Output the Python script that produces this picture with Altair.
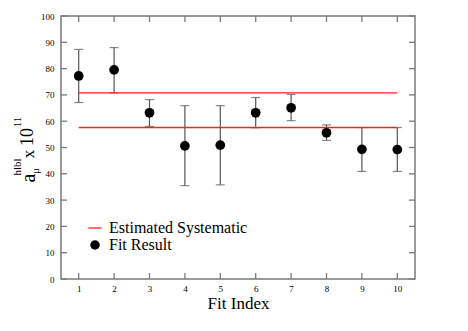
import altair as alt
import pandas as pd

fit_index = [1, 2, 3, 4, 5, 6, 7, 8, 9, 10]
fit_value = [77.2, 79.5, 63.2, 50.6, 50.9, 63.2, 65.1, 55.6, 49.3, 49.2]
err_high = [87.3, 88.0, 68.2, 65.9, 65.9, 69.0, 70.2, 58.6, 57.6, 57.6]
err_low = [67.1, 70.8, 58.0, 35.5, 35.8, 57.5, 60.2, 52.7, 40.9, 40.9]

sys_levels = [70.8, 57.6]
sys_start = [1, 1]
sys_end = [10, 10]

x_ticks = list(range(1, 11))
y_ticks = list(range(0, 101, 10))

W, H = 354, 263
FRAME = "#7a7a7a"
SERIF = "Liberation Serif"

pts = pd.DataFrame({"idx": fit_index, "val": fit_value, "hi": err_high, "lo": err_low,
                    "series": ["Fit Result"] * len(fit_index)})
sys_df = pd.DataFrame({"x1": sys_start, "x2": sys_end, "y": sys_levels,
                       "series": ["Estimated Systematic"] * 2})
xt = pd.DataFrame({"t": x_ticks})
yt = pd.DataFrame({"t": y_ticks})

xs = alt.Scale(domain=[0.5, 10.5], nice=False, zero=False)
ys = alt.Scale(domain=[0, 100], nice=False)

x_axis = alt.Axis(values=x_ticks, title="Fit Index", titleFont=SERIF, titleFontSize=17,
                  titleFontWeight="normal", titleColor="black", titlePadding=2,
                  labelFont=SERIF, labelFontSize=9, labelColor="black", labelPadding=5,
                  labelOverlap=False, tickSize=0, domain=False, grid=False)
y_axis = alt.Axis(values=y_ticks, title=None, labelFont=SERIF, labelFontSize=9,
                  labelColor="black", labelPadding=7, labelOverlap=False,
                  tickSize=0, domain=False, grid=False)


def X(f):
    return alt.X(f, scale=xs, axis=x_axis)


def Y(f):
    return alt.Y(f, scale=ys, axis=y_axis)


# error bars
bars = alt.Chart(pts).mark_rule(color="#555555", strokeWidth=1.2).encode(
    x=X("idx:Q"), y=Y("lo:Q"), y2="hi:Q")
cap_hi = alt.Chart(pts).mark_tick(color="#555555", orient="horizontal", size=9, thickness=1.2).encode(
    x=X("idx:Q"), y=Y("hi:Q"))
cap_lo = alt.Chart(pts).mark_tick(color="#555555", orient="horizontal", size=9, thickness=1.2).encode(
    x=X("idx:Q"), y=Y("lo:Q"))

# systematic lines
sys_lines = alt.Chart(sys_df).mark_rule(strokeWidth=1.3).encode(
    x=X("x1:Q"), x2="x2:Q", y=Y("y:Q"),
    stroke=alt.Stroke("series:N", scale=alt.Scale(domain=["Estimated Systematic"], range=["#ff2020"]),
                      legend=alt.Legend(title=None, orient="none", legendX=26, legendY=204,
                                        symbolType="stroke", symbolSize=180, symbolStrokeWidth=1.3,
                                        labelFont=SERIF, labelFontSize=16, labelColor="black",
                                        labelOffset=6)))

points = alt.Chart(pts).mark_point(filled=True, size=95, opacity=1, shape="circle").encode(
    x=X("idx:Q"), y=Y("val:Q"),
    fill=alt.Fill("series:N", scale=alt.Scale(domain=["Fit Result"], range=["black"]),
                  legend=alt.Legend(title=None, orient="none", legendX=26, legendY=221,
                                    symbolType="circle", symbolSize=90, symbolStrokeWidth=0,
                                    labelFont=SERIF, labelFontSize=16, labelColor="black",
                                    labelOffset=6)))

# inward ticks
tb = alt.Chart(xt).mark_rule(color=FRAME, strokeWidth=1.3).encode(
    x=X("t:Q"), y=alt.value(H), y2=alt.value(H - 6))
tt = alt.Chart(xt).mark_rule(color=FRAME, strokeWidth=1.3).encode(
    x=X("t:Q"), y=alt.value(0), y2=alt.value(6))
tl = alt.Chart(yt).mark_rule(color=FRAME, strokeWidth=1.3).encode(
    y=Y("t:Q"), x=alt.value(0), x2=alt.value(6))
tr = alt.Chart(yt).mark_rule(color=FRAME, strokeWidth=1.3).encode(
    y=Y("t:Q"), x=alt.value(W), x2=alt.value(W - 6))

# y title pieces
def ytext(txt, px, py, size):
    return alt.Chart(pd.DataFrame({"t": [txt]})).mark_text(
        angle=270, font=SERIF, fontSize=size, align="center", baseline="middle", color="black"
    ).encode(text="t:N", x=alt.value(px), y=alt.value(py))

ox, oy = 61, 16
title_parts = [
    ytext("a", 29 - ox, 178 - oy, 20),
    ytext("μ", 36 - ox, 171 - oy, 11),
    ytext("hlbl", 18 - ox, 167 - oy, 11),
    ytext("x", 29 - ox, 154 - oy, 17),
    ytext("10", 28 - ox, 137 - oy, 18),
    ytext("11", 18 - ox, 122 - oy, 11),
]

chart = alt.layer(bars, cap_hi, cap_lo, sys_lines, points, tb, tt, tl, tr, *title_parts).resolve_scale(
    stroke="independent", fill="independent"
).properties(
    width=W, height=H,
    autosize=alt.AutoSizeParams(type="none"),
    padding={"left": 53, "top": 8, "right": 45, "bottom": 45},
    background="white",
).configure_view(stroke=FRAME, strokeWidth=1.5).configure_axis(labelOverlap=False)

chart.save("out.html", embed_options={"renderer": "svg", "actions": False})
